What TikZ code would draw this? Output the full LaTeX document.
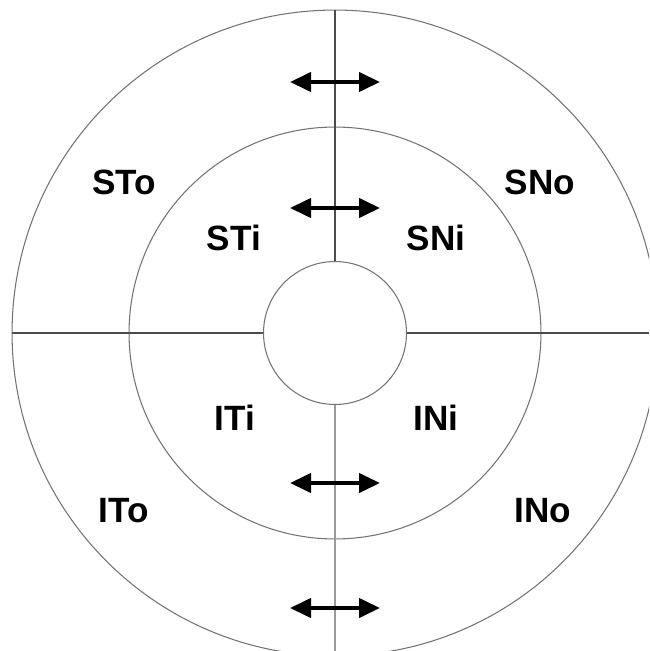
\documentclass[tikz,border=0pt]{standalone}
\usepackage{fontspec}
\setmainfont{Liberation Sans}
\usetikzlibrary{positioning, arrows.meta}

\begin{document}
\begin{tikzpicture}[x=0.02cm,y=-0.02cm,
  ring/.style={circle,draw=black!55,line width=0.6pt,inner sep=0pt},
  sector/.style={font=\fontsize{20}{20}\selectfont\bfseries},
  shiftarrow/.style={{Triangle[length=0.42cm,width=0.38cm]}-{Triangle[length=0.42cm,width=0.38cm]},line width=2.3pt},
  divider/.style={draw=black!70,line width=0.6pt}]
  \clip (0,0) rectangle (649,651);
  \node[ring,minimum size=12.92cm] (outer)  at (335,333) {};
  \node[ring,minimum size=8.24cm]  (middle) at (335,333) {};
  \node[ring,minimum size=2.86cm]  (inner)  at (335,333) {};
  \coordinate (east)  at (649,333);
  \coordinate (south) at (335,651);
\draw[divider] (outer.north) -- (inner.north);
\draw[divider,draw=black!40] (inner.south) -- (south);
\draw[divider] (outer.west) -- (inner.west);
\draw[divider] (inner.east) -- (east);
  \node[sector] (STo) at (124,182) {STo};
  \node[sector] (SNo) at (540,182) {SNo};
  \node[sector] (STi) at (234,238) {STi};
  \node[sector] (SNi) at (436,238) {SNi};
  \node[sector] (ITi) at (235,418) {ITi};
  \node[sector] (INi) at (436,418) {INi};
  \node[sector] (ITo) at (124,511) {ITo};
  \node[sector] (INo) at (543,511) {INo};
  \coordinate (A1) at (290,82);  \coordinate (B1) at (380,82);
  \coordinate (A2) at (290,208); \coordinate (B2) at (380,208);
  \coordinate (A3) at (290,483); \coordinate (B3) at (380,483);
  \coordinate (A4) at (290,608); \coordinate (B4) at (380,608);
\draw[shiftarrow] (A1) -- (B1);
\draw[shiftarrow] (A2) -- (B2);
\draw[shiftarrow] (A3) -- (B3);
\draw[shiftarrow] (A4) -- (B4);
\end{tikzpicture}
\end{document}
